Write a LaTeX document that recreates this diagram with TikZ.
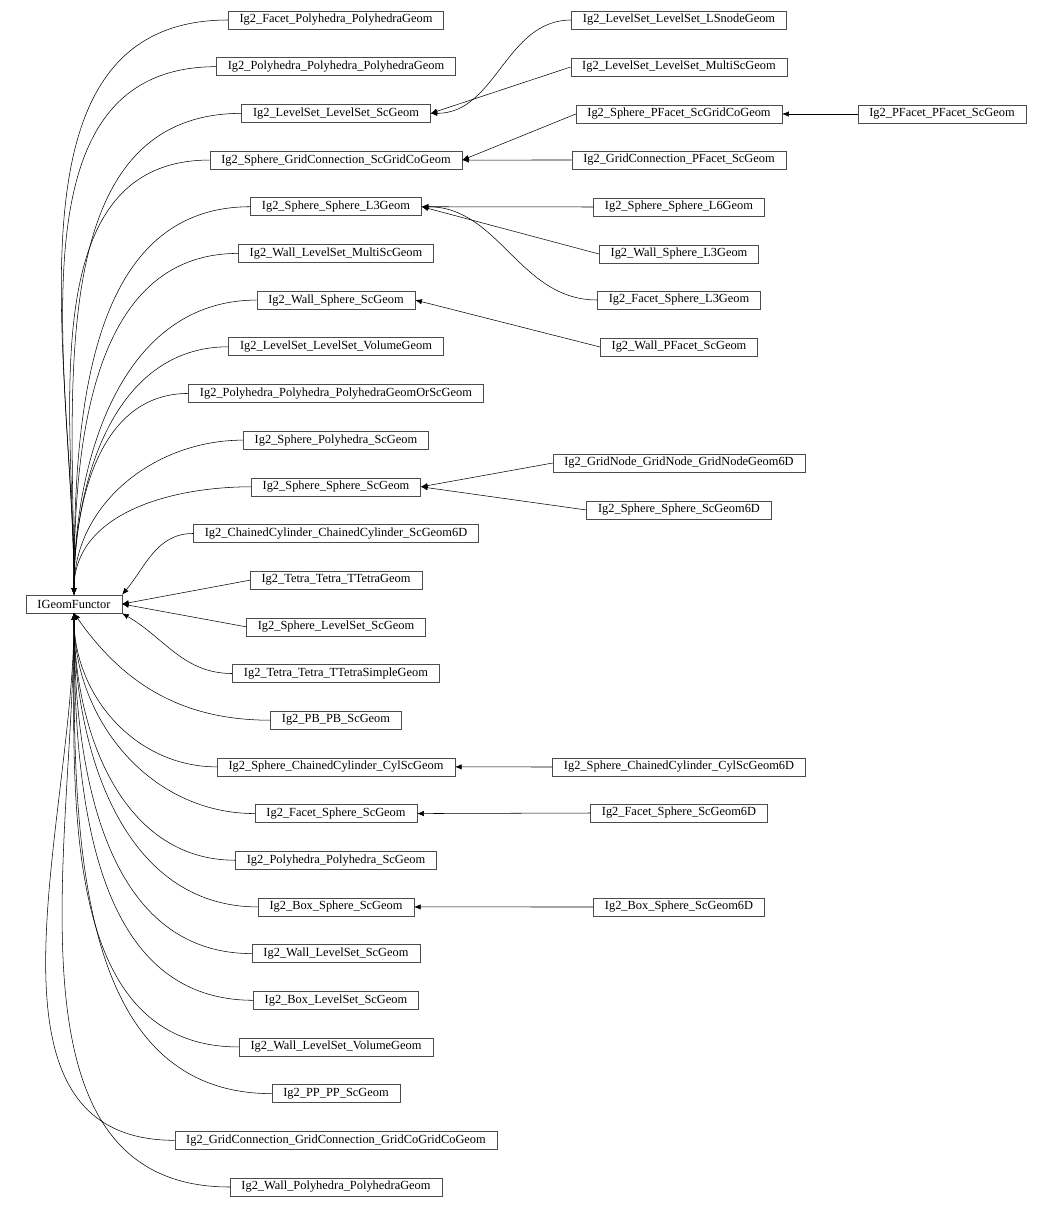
\documentclass[tikz,border=0pt]{standalone}
\usepackage{fontspec}
\setmainfont{Liberation Serif}
\usetikzlibrary{arrows.meta}
\tikzset{
  cls/.style={draw=black!70, rectangle, inner xsep=8.5pt, inner ysep=0pt, minimum height=13.5pt, font=\fontsize{9.3}{10}\selectfont},
  inh/.style={-{Latex[length=5pt,width=4pt]}, black, thin}
}
\begin{document}
\begin{tikzpicture}[x=0.75pt, y=-0.75pt]
  \useasboundingbox (0,0) rectangle (1052,1210);
  \node[cls] (base) at (74,604) {IGeomFunctor};
  % derived classes, first level
  \foreach \i/\t in {1/Ig2\_Facet\_Polyhedra\_PolyhedraGeom, 2/Ig2\_Polyhedra\_Polyhedra\_PolyhedraGeom,
      3/Ig2\_LevelSet\_LevelSet\_ScGeom, 4/Ig2\_Sphere\_GridConnection\_ScGridCoGeom,
      5/Ig2\_Sphere\_Sphere\_L3Geom, 6/Ig2\_Wall\_LevelSet\_MultiScGeom,
      7/Ig2\_Wall\_Sphere\_ScGeom, 8/Ig2\_LevelSet\_LevelSet\_VolumeGeom,
      9/Ig2\_Polyhedra\_Polyhedra\_PolyhedraGeomOrScGeom, 10/Ig2\_Sphere\_Polyhedra\_ScGeom,
      11/Ig2\_Sphere\_Sphere\_ScGeom, 12/Ig2\_ChainedCylinder\_ChainedCylinder\_ScGeom6D,
      13/Ig2\_Tetra\_Tetra\_TTetraGeom, 14/Ig2\_Sphere\_LevelSet\_ScGeom,
      15/Ig2\_Tetra\_Tetra\_TTetraSimpleGeom, 16/Ig2\_PB\_PB\_ScGeom,
      17/Ig2\_Sphere\_ChainedCylinder\_CylScGeom, 18/Ig2\_Facet\_Sphere\_ScGeom,
      19/Ig2\_Polyhedra\_Polyhedra\_ScGeom, 20/Ig2\_Box\_Sphere\_ScGeom,
      21/Ig2\_Wall\_LevelSet\_ScGeom, 22/Ig2\_Box\_LevelSet\_ScGeom,
      23/Ig2\_Wall\_LevelSet\_VolumeGeom, 24/Ig2\_PP\_PP\_ScGeom,
      25/Ig2\_GridConnection\_GridConnection\_GridCoGridCoGeom, 26/Ig2\_Wall\_Polyhedra\_PolyhedraGeom}
    \node[cls] (l\i) at (336,{20+46.68*(\i-1)}) {\t};
  \foreach \i in {1,...,11}
    \draw[inh] (l\i.west) to[out=180,in=90] (base.north);
  \draw[inh] (l12.west) to[out=180,in=50] (base.north east);
  \draw[inh] (l13.west) -- (base.east);
  \draw[inh] (l14.west) -- (base.east);
  \draw[inh] (l15.west) to[out=180,in=-30] (base.south east);
  \draw[inh] (l16.west) to[out=180,in=-55] (base.south);
  \foreach \i in {17,...,26}
    \draw[inh] (l\i.west) to[out=180,in=-90] (base.south);
  % second level
  \node[cls] (lsnode) at (679,20) {Ig2\_LevelSet\_LevelSet\_LSnodeGeom};
  \node[cls] (lsmulti) at (679,67) {Ig2\_LevelSet\_LevelSet\_MultiScGeom};
  \node[cls] (spfacet) at (679,114) {Ig2\_Sphere\_PFacet\_ScGridCoGeom};
  \node[cls] (gcpfacet) at (679,160) {Ig2\_GridConnection\_PFacet\_ScGeom};
  \node[cls] (ssl6) at (679,207) {Ig2\_Sphere\_Sphere\_L6Geom};
  \node[cls] (wsl3) at (679,254) {Ig2\_Wall\_Sphere\_L3Geom};
  \node[cls] (fsl3) at (679,300) {Ig2\_Facet\_Sphere\_L3Geom};
  \node[cls] (wpfacet) at (679,347) {Ig2\_Wall\_PFacet\_ScGeom};
  \node[cls] (gridnode) at (679,463) {Ig2\_GridNode\_GridNode\_GridNodeGeom6D};
  \node[cls] (ss6d) at (679,510) {Ig2\_Sphere\_Sphere\_ScGeom6D};
  \node[cls] (scc6d) at (679,767) {Ig2\_Sphere\_ChainedCylinder\_CylScGeom6D};
  \node[cls] (fs6d) at (679,813) {Ig2\_Facet\_Sphere\_ScGeom6D};
  \node[cls] (bs6d) at (679,907) {Ig2\_Box\_Sphere\_ScGeom6D};
  \node[cls] (pfpf) at (942,114) {Ig2\_PFacet\_PFacet\_ScGeom};
  \draw[inh] (lsnode.west) to[out=180,in=0] (l3.east);
  \draw[inh] (lsmulti.west) -- (l3.east);
  \draw[inh] (spfacet.west) -- (l4.east);
  \draw[inh] (gcpfacet.west) -- (l4.east);
  \draw[inh] (pfpf.west) -- (spfacet.east);
  \draw[inh] (ssl6.west) -- (l5.east);
  \draw[inh] (wsl3.west) -- (l5.east);
  \draw[inh] (fsl3.west) to[out=180,in=0] (l5.east);
  \draw[inh] (wpfacet.west) -- (l7.east);
  \draw[inh] (gridnode.west) -- (l11.east);
  \draw[inh] (ss6d.west) -- (l11.east);
  \draw[inh] (scc6d.west) -- (l17.east);
  \draw[inh] (fs6d.west) -- (l18.east);
  \draw[inh] (bs6d.west) -- (l20.east);
\end{tikzpicture}
\end{document}
